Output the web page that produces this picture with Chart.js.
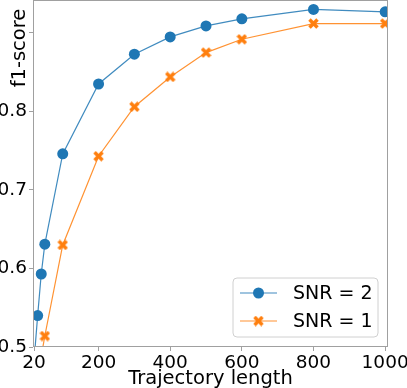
<!DOCTYPE html>
<html>
<head>
<meta charset="utf-8">
<script src="https://cdn.jsdelivr.net/npm/chart.js@4.4.1/dist/chart.umd.min.js"></script>
<style>
  html, body { margin: 0; padding: 0; background: #fff; }
  #wrap { width: 407px; height: 388px; }
</style>
</head>
<body>
<div id="wrap"><canvas id="f1Chart" width="407" height="388"></canvas></div>
<script>
// values
const snr2X = [20, 30, 40, 50, 100, 200, 300, 400, 500, 600, 800, 1000];
const snr2Y = [0.483, 0.540, 0.593, 0.631, 0.746, 0.835, 0.873, 0.895, 0.909, 0.918, 0.930, 0.927];
const snr1X = [40, 50, 100, 200, 300, 400, 500, 600, 800, 1000];
const snr1Y = [0.488, 0.514, 0.630, 0.743, 0.806, 0.844, 0.875, 0.892, 0.912, 0.912];
const seriesNames = ['SNR = 2', 'SNR = 1'];
const xTicks = [20, 200, 400, 600, 800, 1000];
const yTicks = [0.5, 0.6, 0.7, 0.8, 0.9];
const yTickLabels = ['0.5', '0.6', '0.7', '0.8', ''];

const BLUE = '#1f77b4';
const ORANGE = '#ff7f0e';
const FONT = 'DejaVu Sans';
const SPINE = '#a0a0a0';

// filled "X" marker like matplotlib's 'X'
function makeX(size, color) {
    const c = document.createElement('canvas');
    c.width = size; c.height = size;
    const g = c.getContext('2d');
    g.strokeStyle = color;
    g.lineWidth = size * 0.32;
    g.beginPath();
    g.moveTo(1.5, 1.5); g.lineTo(size - 1.5, size - 1.5);
    g.moveTo(size - 1.5, 1.5); g.lineTo(1.5, size - 1.5);
    g.stroke();
    return c;
}
const xMarker = makeX(11, ORANGE);

const framePlugin = {
    id: 'frame',
    afterDatasetsDraw(chart) {
        const a = chart.chartArea, ctx = chart.ctx;
        ctx.save();
        ctx.strokeStyle = SPINE;
        ctx.lineWidth = 1;
        ctx.strokeRect(Math.round(a.left) + 0.5, Math.round(a.top) + 0.5,
            Math.round(a.right - a.left) - 1, Math.round(a.bottom - a.top) - 1);
        ctx.restore();
    },
    afterDraw(chart) {
        const ctx = chart.ctx;
        ctx.save();
        // axis titles
        ctx.fillStyle = '#000';
        ctx.font = '19.5px "' + FONT + '"';
        ctx.textAlign = 'center';
        ctx.textBaseline = 'alphabetic';
        ctx.fillText('Trajectory length', (chart.chartArea.left + chart.chartArea.right) / 2, 384);
        ctx.translate(25, 48);
        ctx.rotate(-Math.PI / 2);
        ctx.fillText('f1-score', 0, 0);
        ctx.restore();

        // legend
        ctx.save();
        const bx = 233, by = 278, bw = 145, bh = 59, r = 4;
        ctx.beginPath();
        ctx.moveTo(bx + r, by);
        ctx.arcTo(bx + bw, by, bx + bw, by + bh, r);
        ctx.arcTo(bx + bw, by + bh, bx, by + bh, r);
        ctx.arcTo(bx, by + bh, bx, by, r);
        ctx.arcTo(bx, by, bx + bw, by, r);
        ctx.closePath();
        ctx.fillStyle = 'rgba(255,255,255,0.8)';
        ctx.fill();
        ctx.strokeStyle = '#d0d0d0';
        ctx.lineWidth = 1;
        ctx.stroke();
        const rows = [293, 321];
        const colors = [BLUE, ORANGE];
        rows.forEach((y, i) => {
            ctx.strokeStyle = colors[i];
            ctx.globalAlpha = 0.85;
            ctx.lineWidth = 1.2;
            ctx.beginPath();
            ctx.moveTo(240, y); ctx.lineTo(277, y);
            ctx.stroke();
            ctx.globalAlpha = 1;
            if (i === 0) {
                ctx.fillStyle = BLUE;
                ctx.beginPath();
                ctx.arc(258.5, y, 5.5, 0, Math.PI * 2);
                ctx.fill();
            } else {
                ctx.drawImage(xMarker, 258.5 - 5.5, y - 5.5);
            }
            ctx.fillStyle = '#000';
            ctx.font = '19px "' + FONT + '"';
            ctx.textAlign = 'left';
            ctx.textBaseline = 'middle';
            ctx.fillText(seriesNames[i], 293, y + 1);
        });
        ctx.restore();
    }
};

const ctx = document.getElementById('f1Chart').getContext('2d');
new Chart(ctx, {
    type: 'line',
    data: {
        datasets: [{
            label: seriesNames[0],
            data: snr2X.map((x, i) => ({ x: x, y: snr2Y[i] })),
            borderColor: 'rgba(31,119,180,0.85)',
            borderWidth: 1.2,
            pointStyle: 'circle',
            pointRadius: 5.5,
            pointBorderWidth: 0,
            pointBackgroundColor: BLUE,
            tension: 0
        }, {
            label: seriesNames[1],
            data: snr1X.map((x, i) => ({ x: x, y: snr1Y[i] })),
            borderColor: 'rgba(255,127,14,0.85)',
            borderWidth: 1.2,
            pointStyle: xMarker,
            pointRadius: 5.5,
            pointBorderWidth: 0,
            pointBackgroundColor: ORANGE,
            tension: 0
        }]
    },
    options: {
        responsive: false,
        animation: false,
        events: [],
        layout: { autoPadding: false, padding: { left: 0, right: 19, top: 0, bottom: 0 } },
        scales: {
            x: {
                type: 'linear',
                min: 17,
                max: 1008,
                afterFit: s => { s.height = 41; s.paddingLeft = 0; s.paddingRight = 0; },
                afterBuildTicks: s => { s.ticks = xTicks.map(v => ({ value: v })); },
                grid: { drawOnChartArea: false, drawTicks: true, tickLength: 4, color: SPINE },
                border: { display: false },
                ticks: {
                    color: '#000',
                    font: { family: FONT, size: 18.5 },
                    padding: 1,
                    maxRotation: 0,
                    autoSkip: false,
                    callback: v => String(v)
                }
            },
            y: {
                min: 0.5,
                max: 0.942,
                afterFit: s => { s.width = 33; s.paddingTop = 0; s.paddingBottom = 0; },
                afterBuildTicks: s => { s.ticks = yTicks.map(v => ({ value: v })); },
                grid: { drawOnChartArea: false, drawTicks: true, tickLength: 4, color: SPINE },
                border: { display: false },
                ticks: {
                    color: '#000',
                    font: { family: FONT, size: 18.5 },
                    padding: 2,
                    autoSkip: false,
                    callback: v => yTickLabels[yTicks.indexOf(Math.round(v * 10) / 10)]
                }
            }
        },
        plugins: {
            legend: { display: false },
            tooltip: { enabled: false }
        }
    },
    plugins: [framePlugin]
});
</script>
</body>
</html>
